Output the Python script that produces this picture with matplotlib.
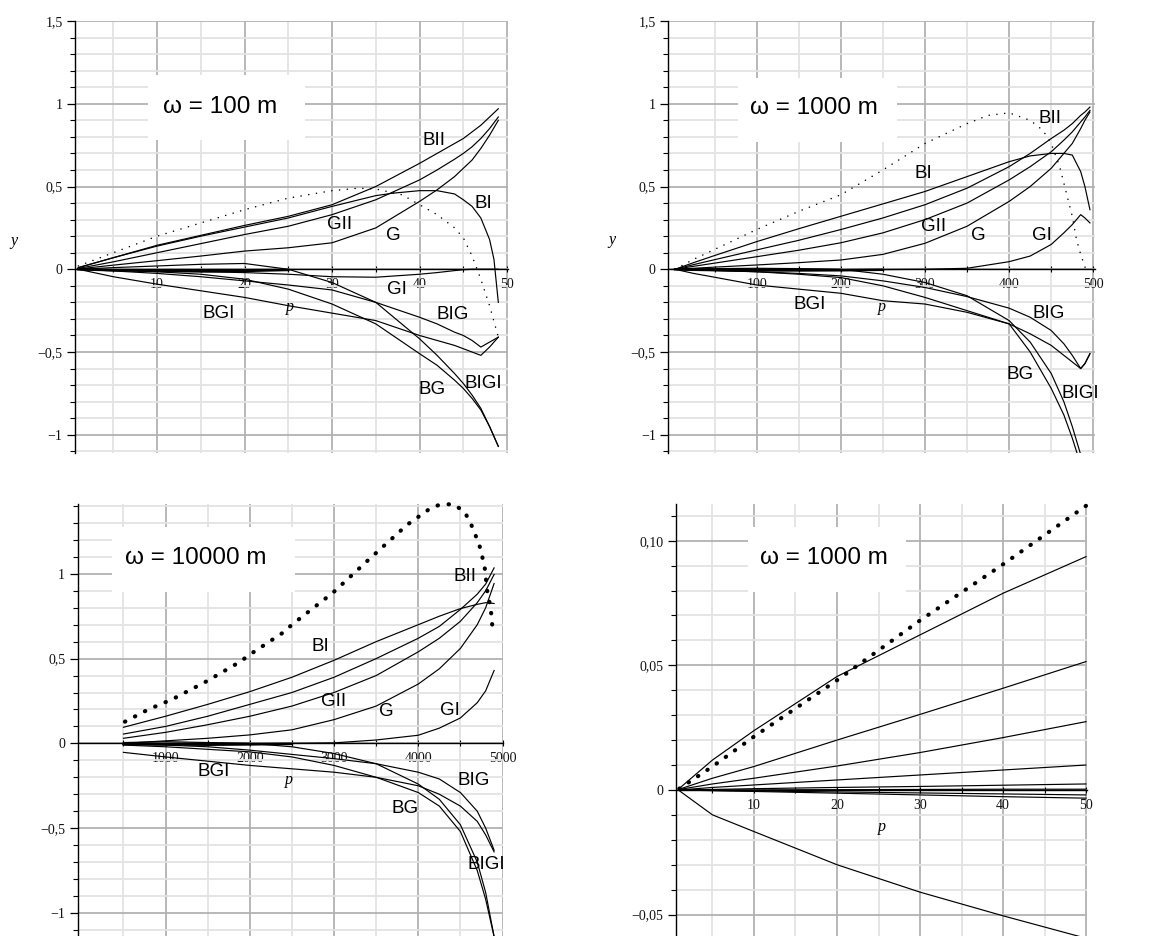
import matplotlib
matplotlib.use("Agg")
import matplotlib.pyplot as plt
from matplotlib.patches import Rectangle
from matplotlib.ticker import FixedLocator, FuncFormatter
import numpy as np

# ---------------- omega = 100 m ----------------
P1_P = [1, 5, 10, 15, 20, 25, 30, 35, 40, 42, 44, 45, 46, 47, 48, 49]
P1_BII = [0.01, 0.07, 0.145, 0.205, 0.265, 0.32, 0.39, 0.50, 0.64, 0.70, 0.76, 0.79, 0.83, 0.87, 0.92, 0.97]
P1_GII = [0.005, 0.045, 0.10, 0.155, 0.21, 0.26, 0.33, 0.42, 0.54, 0.60, 0.665, 0.70, 0.74, 0.79, 0.85, 0.92]
P1_G = [0.002, 0.025, 0.052, 0.08, 0.11, 0.13, 0.16, 0.25, 0.41, 0.48, 0.56, 0.61, 0.66, 0.73, 0.81, 0.90]
P1_GI = [0.0, -0.005, -0.01, -0.015, -0.02, -0.03, -0.045, -0.048, -0.03, -0.02, -0.008, -0.003, 0.0, 0.0, 0.0, 0.0]
P1_BGI = [0.0, -0.045, -0.09, -0.13, -0.17, -0.22, -0.265, -0.31, -0.40, -0.43, -0.46, -0.48, -0.50, -0.52, -0.47, -0.41]
P1_BIG = [0.0, -0.01, -0.025, -0.045, -0.07, -0.095, -0.125, -0.20, -0.29, -0.33, -0.38, -0.40, -0.43, -0.47, -0.44, -0.41]
P1_BG = [0.0, -0.005, -0.015, -0.03, -0.06, -0.12, -0.21, -0.33, -0.51, -0.58, -0.67, -0.72, -0.78, -0.85, -0.95, -1.07]
P1_BIGI = [0.0, 0.01, 0.02, 0.03, 0.035, 0.0, -0.08, -0.20, -0.42, -0.52, -0.63, -0.69, -0.76, -0.84, -0.95, -1.07]
P1_NEAR_P = [1, 5, 10, 15, 20, 25]
P1_NEAR = [0.0, -0.006, -0.01, -0.012, -0.01, -0.004]
P1_BI_P = [1, 5, 10, 15, 20, 25, 30, 35, 37, 40, 42, 44, 45, 46, 47, 48, 48.5, 49]
P1_BI = [0.01, 0.07, 0.14, 0.20, 0.255, 0.31, 0.38, 0.445, 0.46, 0.475, 0.475, 0.455, 0.42, 0.38, 0.31, 0.18, 0.06, -0.20]
P1_DOT_P = [1, 5, 10, 15, 20, 25, 30, 33, 35, 38, 40, 42, 44, 45, 46, 47, 48, 49]
P1_DOT = [0.02, 0.10, 0.20, 0.28, 0.36, 0.43, 0.475, 0.49, 0.485, 0.45, 0.39, 0.33, 0.25, 0.19, 0.08, -0.06, -0.22, -0.41]

# ---------------- omega = 1000 m ----------------
P2_P = [3, 25, 50, 100, 150, 200, 250, 300, 350, 400, 425, 450, 465, 475, 485, 490, 496]
P2_BII = [0.0, 0.028, 0.058, 0.117, 0.175, 0.24, 0.31, 0.39, 0.49, 0.62, 0.70, 0.79, 0.84, 0.88, 0.93, 0.95, 0.98]
P2_BI = [0.0, 0.04, 0.083, 0.167, 0.245, 0.32, 0.395, 0.47, 0.56, 0.65, 0.685, 0.70, 0.70, 0.69, 0.59, 0.50, 0.36]
P2_GII = [0.0, 0.018, 0.037, 0.076, 0.115, 0.16, 0.22, 0.30, 0.40, 0.54, 0.62, 0.71, 0.78, 0.83, 0.89, 0.92, 0.96]
P2_G = [0.0, 0.006, 0.013, 0.026, 0.04, 0.056, 0.09, 0.157, 0.26, 0.41, 0.50, 0.61, 0.70, 0.76, 0.85, 0.90, 0.95]
P2_GI = [0.0, 0.0, 0.0, 0.0, 0.0, -0.002, -0.002, 0.0, 0.006, 0.046, 0.08, 0.15, 0.22, 0.27, 0.33, 0.31, 0.28]
P2_BGI = [0.0, -0.025, -0.048, -0.095, -0.12, -0.145, -0.19, -0.21, -0.26, -0.33, -0.39, -0.46, -0.52, -0.56, -0.60, -0.57, -0.51]
P2_BIG = [0.0, -0.004, -0.008, -0.015, -0.025, -0.04, -0.07, -0.11, -0.165, -0.235, -0.29, -0.37, -0.45, -0.52, -0.60, -0.57, -0.51]
P2_NEAR_P = [3, 25, 50, 100, 150, 200, 250]
P2_NEAR = [0.0, -0.003, -0.005, -0.007, -0.007, -0.006, -0.003]
P2_STEEP_P = [3, 25, 50, 100, 150, 200, 250, 300, 350, 400, 425, 450, 465, 475, 485]
P2_BG = [0.0, -0.003, -0.006, -0.015, -0.03, -0.05, -0.10, -0.17, -0.25, -0.33, -0.50, -0.72, -0.88, -1.02, -1.18]
P2_BIGI = [0.0, 0.002, 0.004, 0.006, 0.004, 0.0, -0.03, -0.08, -0.16, -0.31, -0.44, -0.63, -0.80, -0.95, -1.12]
P2_DOT_P = [3, 25, 50, 100, 150, 200, 250, 300, 350, 375, 400, 425, 440, 450, 460, 468, 475, 480, 485, 491]
P2_DOT = [0.0, 0.06, 0.12, 0.24, 0.35, 0.45, 0.60, 0.76, 0.88, 0.93, 0.945, 0.90, 0.84, 0.76, 0.62, 0.46, 0.32, 0.18, 0.09, 0.0]

# ---------------- omega = 10000 m ----------------
P3_P = [500, 1000, 1500, 2000, 2500, 3000, 3500, 4000, 4250, 4500, 4700, 4800, 4900]
P3_BI = [0.095, 0.16, 0.23, 0.305, 0.39, 0.49, 0.60, 0.70, 0.75, 0.795, 0.82, 0.83, 0.825]
P3_BII = [0.055, 0.10, 0.16, 0.23, 0.30, 0.39, 0.50, 0.62, 0.69, 0.79, 0.88, 0.94, 1.035]
P3_GII = [0.03, 0.065, 0.11, 0.16, 0.22, 0.30, 0.40, 0.54, 0.62, 0.72, 0.83, 0.90, 0.996]
P3_G = [0.0, 0.015, 0.03, 0.05, 0.08, 0.14, 0.22, 0.35, 0.44, 0.56, 0.70, 0.80, 0.943]
P3_GI = [0.0, 0.0, 0.0, 0.0, 0.0, 0.003, 0.02, 0.048, 0.09, 0.15, 0.24, 0.31, 0.43]
P3_BGI = [-0.053, -0.08, -0.105, -0.13, -0.15, -0.17, -0.20, -0.25, -0.30, -0.37, -0.46, -0.54, -0.64]
P3_BIG = [-0.005, -0.01, -0.02, -0.04, -0.065, -0.09, -0.12, -0.17, -0.21, -0.29, -0.40, -0.50, -0.63]
P3_BG = [-0.01, -0.02, -0.035, -0.05, -0.08, -0.13, -0.20, -0.29, -0.37, -0.52, -0.75, -0.92, -1.14]
P3_BIGI = [0.005, 0.01, 0.005, 0.0, -0.02, -0.06, -0.12, -0.24, -0.33, -0.48, -0.70, -0.88, -1.14]
P3_NEAR_P = [500, 1000, 1500, 2000, 2500]
P3_NEAR = [-0.004, -0.006, -0.008, -0.006, -0.003]
P3_DOT_P = [518, 795, 1080, 1490, 1880, 2010, 2400, 2500, 2990, 3425, 3870, 4140, 4265, 4420,
            4550, 4620, 4670, 4730, 4760, 4790, 4820, 4850, 4870, 4880]
P3_DOT = [0.128, 0.20, 0.26, 0.367, 0.48, 0.527, 0.655, 0.70, 0.89, 1.09, 1.29, 1.385, 1.41, 1.41,
          1.365, 1.30, 1.24, 1.16, 1.10, 1.03, 0.89, 0.82, 0.75, 0.68]

# ---------------- omega = 1000 m, small p ----------------
P4_P = [1, 5, 10, 20, 30, 40, 50]
P4_DOT = [0.0005, 0.0094, 0.0214, 0.044, 0.068, 0.0905, 0.114]
P4_S1 = [0.0006, 0.012, 0.0238, 0.0455, 0.0622, 0.0789, 0.0936]
P4_S2 = [0.0003, 0.0047, 0.0094, 0.020, 0.0303, 0.0408, 0.0515]
P4_S3 = [0.0002, 0.0024, 0.0047, 0.0096, 0.015, 0.021, 0.0274]
P4_S4 = [0.0, 0.001, 0.002, 0.004, 0.006, 0.008, 0.010]
P4_S5 = [0.0, 0.0002, 0.0005, 0.001, 0.0014, 0.0019, 0.0024]
P4_S6 = [0.0, 0.0, 0.0, 0.0001, 0.0002, 0.0003, 0.0003]
P4_S7 = [0.0, -0.0002, -0.0004, -0.0008, -0.0012, -0.0016, -0.002]
P4_S8 = [0.0, -0.0003, -0.0006, -0.0013, -0.002, -0.0027, -0.0033]
P4_S9 = [-0.0003, -0.010, -0.0167, -0.030, -0.041, -0.0505, -0.0595]

W, H = 1158, 936
fig = plt.figure(figsize=(W / 100, H / 100), dpi=100)

SERIF = "Liberation Serif"
SANS = "Liberation Sans"
LINE = dict(color="black", lw=0.85, solid_joinstyle="round")
FINE_DOTS = dict(color="black", lw=1.1, ls=(0, (0.1, 5.0)), dash_capstyle="round")
BOLD_DOTS = dict(color="black", lw=3.0, ls=(0, (0.1, 2.6)), dash_capstyle="round")


def px_axes(left, right, top, bottom):
    return fig.add_axes([left / W, 1 - bottom / H, (right - left) / W, (bottom - top) / H])


def comma_fmt(decimals=None):
    def f(v, pos):
        if abs(v) < 1e-9:
            return "0"
        s = f"{v:.{decimals}f}" if decimals else f"{v:g}"
        return s.replace(".", ",").replace("-", "\u2212")
    return FuncFormatter(f)


def style(ax, xlim, ylim, xmaj, xmin, ymaj, ymin, ydec=None):
    ax.set_xlim(*xlim)
    ax.set_ylim(*ylim)
    ax.set_facecolor("white")
    for s in ("top", "right"):
        ax.spines[s].set_visible(False)
    ax.spines["bottom"].set_position(("data", 0))
    ax.spines["bottom"].set_linewidth(1.0)
    ax.spines["left"].set_linewidth(1.0)
    ax.xaxis.set_major_locator(FixedLocator(xmaj))
    ax.xaxis.set_minor_locator(FixedLocator(xmin))
    ax.yaxis.set_major_locator(FixedLocator(ymaj))
    ax.yaxis.set_minor_locator(FixedLocator(ymin))
    ax.xaxis.set_major_formatter(FuncFormatter(lambda v, p: f"{v:g}"))
    ax.yaxis.set_major_formatter(comma_fmt(ydec))
    ax.grid(which="major", color="#b2b2b2", lw=1.3)
    ax.grid(which="minor", color="#e3e3e3", lw=1.3)
    ax.set_axisbelow(True)
    ax.tick_params(axis="y", which="major", direction="out", length=6, width=0.9, pad=3,
                   labelsize=10, labelcolor="#111111")
    ax.tick_params(axis="y", which="minor", direction="out", length=3.5, width=0.8)
    ax.tick_params(axis="x", which="both", direction="inout", length=5, width=0.8, pad=4,
                   labelsize=10, labelcolor="#111111")
    for lab in ax.get_xticklabels() + ax.get_yticklabels():
        lab.set_fontfamily(SERIF)


def title_box(l, r, t, b, cx, cy, text):
    fig.add_artist(Rectangle((l / W, 1 - b / H), (r - l) / W, (b - t) / H,
                             transform=fig.transFigure, facecolor="white",
                             edgecolor="none", zorder=3))
    fig.text(cx / W, 1 - cy / H, text, ha="center", va="center", fontsize=17.5,
             family=SANS, zorder=4)


def curve_labels(ax, items):
    for name, x, y in items:
        ax.text(x, y, name, ha="center", va="center", fontsize=13.5, family=SANS, zorder=5)


def axis_label(ax, x, y, s):
    ax.text(x, y, s, ha="center", va="center", fontsize=11.5, family=SERIF,
            style="italic", zorder=1)


def ticks(a, b, step, skip=None):
    vals = np.round(np.arange(a, b + step / 2, step), 6)
    if skip:
        vals = [v for v in vals if not np.any(np.isclose(v, skip))]
    return list(vals)


Y_MAJ = [-1.0, -0.5, 0.0, 0.5, 1.0, 1.5]
Y_MIN = ticks(-1.1, 1.5, 0.1, Y_MAJ)

# ---- panel 1 ----
ax1 = px_axes(75, 508.3, 21, 453)
style(ax1, (0.62, 50.14), (-1.11, 1.5), ticks(10, 50, 10), ticks(5, 45, 10), Y_MAJ, Y_MIN)
for ys in (P1_BII, P1_GII, P1_G, P1_GI, P1_BGI, P1_BIG, P1_BG, P1_BIGI):
    ax1.plot(P1_P, ys, **LINE)
ax1.plot(P1_NEAR_P, P1_NEAR, color="black", lw=1.8)
ax1.plot(P1_BI_P, P1_BI, **LINE)
ax1.plot(P1_DOT_P, P1_DOT, **FINE_DOTS)
curve_labels(ax1, [("BII", 41.7, 0.78), ("BI", 47.3, 0.40), ("GII", 30.9, 0.268),
                   ("G", 37.0, 0.207), ("GI", 37.4, -0.125), ("BGI", 17.0, -0.266),
                   ("BIG", 43.8, -0.276), ("BG", 41.4, -0.728), ("BIGI", 47.3, -0.688)])
axis_label(ax1, 25.2, -0.225, "p")
fig.text(14 / W, 1 - 241 / H, "y", ha="center", va="center", fontsize=11.5,
         family=SERIF, style="italic")
title_box(148, 305, 75, 140, 220, 107, "\u03c9 = 100 m")

# ---- panel 2 ----
ax2 = px_axes(668.3, 1095, 21, 453)
style(ax2, (-5, 502), (-1.11, 1.5), ticks(100, 500, 100), ticks(50, 450, 100), Y_MAJ, Y_MIN)
for ys in (P2_BII, P2_BI, P2_GII, P2_G, P2_GI, P2_BGI, P2_BIG):
    ax2.plot(P2_P, ys, **LINE)
ax2.plot(P2_NEAR_P, P2_NEAR, color="black", lw=1.8)
ax2.plot(P2_STEEP_P, P2_BG, **LINE)
ax2.plot(P2_STEEP_P, P2_BIGI, **LINE)
ax2.plot(P2_DOT_P, P2_DOT, **FINE_DOTS)
curve_labels(ax2, [("BII", 448.5, 0.91), ("BI", 298, 0.58), ("GII", 310, 0.258),
                   ("G", 363, 0.207), ("GI", 438.6, 0.207), ("BGI", 163, -0.215),
                   ("BIG", 446.5, -0.266), ("BG", 412.9, -0.638), ("BIGI", 484, -0.748)])
axis_label(ax2, 248.5, -0.225, "p")
fig.text(611.7 / W, 1 - 240 / H, "y", ha="center", va="center", fontsize=11.5,
         family=SERIF, style="italic")
title_box(738, 897, 78, 142, 814, 108, "\u03c9 = 1000 m")

# ---- panel 3 ----
ax3 = px_axes(77.7, 502.7, 504.3, 936)
style(ax3, (-43, 5002), (-1.136, 1.41), ticks(1000, 5000, 1000), ticks(500, 4500, 1000),
      [-1.0, -0.5, 0.0, 0.5, 1.0], ticks(-1.1, 1.4, 0.1, Y_MAJ))
for ys in (P3_BI, P3_BII, P3_GII, P3_G, P3_GI, P3_BGI, P3_BIG, P3_BG, P3_BIGI):
    ax3.plot(P3_P, ys, **LINE)
ax3.plot(P3_NEAR_P, P3_NEAR, color="black", lw=1.8)
ax3.plot(P3_DOT_P, P3_DOT, clip_on=False, **BOLD_DOTS)
curve_labels(ax3, [("BII", 4554, 0.982), ("BI", 2833, 0.57), ("GII", 2991, 0.246),
                   ("G", 3616, 0.187), ("GI", 4376, 0.196), ("BGI", 1567, -0.167),
                   ("BIG", 4661, -0.216), ("BG", 3842, -0.383), ("BIGI", 4811, -0.717)])
axis_label(ax3, 2469, -0.216, "p")
title_box(112, 295, 527, 592, 196, 558, "\u03c9 = 10000 m")

# ---- panel 4 ----
ax4 = px_axes(675.7, 1086.7, 504.3, 936)
style(ax4, (0.57, 50.08), (-0.0586, 0.1146), ticks(10, 50, 10), ticks(5, 45, 10),
      [-0.05, 0.0, 0.05, 0.10], ticks(-0.05, 0.11, 0.01, [-0.05, 0.0, 0.05, 0.10]), ydec=2)
for ys in (P4_S1, P4_S2, P4_S3, P4_S4, P4_S5, P4_S6, P4_S7, P4_S8, P4_S9):
    ax4.plot(P4_P, ys, **LINE)
ax4.plot(P4_P, P4_DOT, clip_on=False, **BOLD_DOTS)
axis_label(ax4, 25.4, -0.0147, "p")
title_box(748, 906, 527, 592, 824, 558, "\u03c9 = 1000 m")

fig.savefig("out.png", dpi=100, facecolor="white")
